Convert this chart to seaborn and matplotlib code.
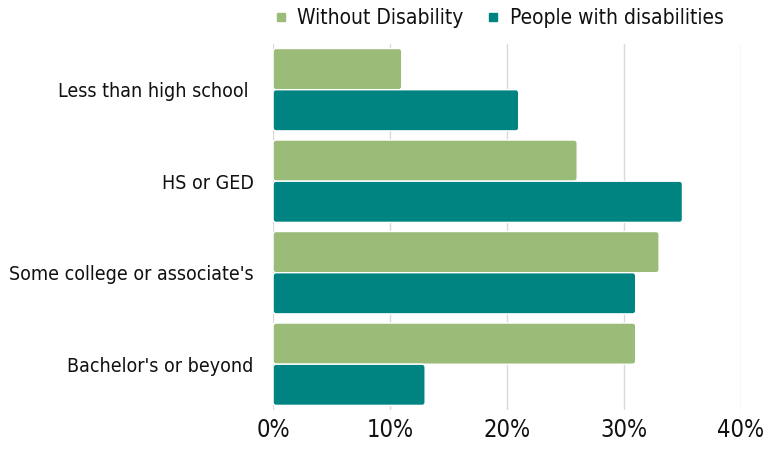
import matplotlib
matplotlib.use("Agg")
import matplotlib.pyplot as plt
from matplotlib import font_manager
from matplotlib.lines import Line2D
from matplotlib.patches import FancyBboxPatch
import seaborn as sns
import pandas as pd

categories = ["Less than high school ", "HS or GED", "Some college or associate's", "Bachelor's or beyond"]
without_disability = [11, 26, 33, 31]
with_disabilities = [21, 35, 31, 13]
series_names = ["Without Disability", "People with disabilities"]
tick_values = [0, 10, 20, 30, 40]
tick_labels = ["0%", "10%", "20%", "30%", "40%"]

colors = ["#9bbb78", "#008481"]

sns.set_theme(style="white")

names = {f.name for f in font_manager.fontManager.ttflist}
if "Liberation Sans Narrow" in names:
    plt.rcParams["font.family"] = ["Liberation Sans Narrow", "DejaVu Sans"]
else:
    plt.rcParams["font.family"] = ["DejaVu Sans"]
    plt.rcParams["font.stretch"] = "condensed"

df = pd.DataFrame({
    "category": categories * 2,
    "value": without_disability + with_disabilities,
    "series": [series_names[0]] * 4 + [series_names[1]] * 4,
})

fig = plt.figure(figsize=(7.78, 4.53), dpi=100)
ax = fig.add_axes([0.351, 0.095, 0.6014, 0.808])

sns.barplot(data=df, y="category", x="value", hue="series", orient="h",
            palette=colors, saturation=1, width=0.9, ax=ax, legend=False,
            edgecolor="white", linewidth=1.0)

ax.set_xlim(0, 40)
ax.set_xticks(tick_values)
ax.set_xticklabels(tick_labels, fontsize=17, color="#111111")
ax.tick_params(axis="y", labelsize=14, colors="#111111", length=0, pad=14)
ax.tick_params(axis="x", length=0, pad=6)
ax.set_xlabel("")
ax.set_ylabel("")
for s in ax.spines.values():
    s.set_visible(False)
ax.grid(axis="x", color="#d9d9d9", linewidth=1)
ax.set_axisbelow(True)

# soften the bar corners slightly
fig.canvas.draw()
bbox = ax.get_window_extent()
x0, x1 = ax.get_xlim()
y0, y1 = ax.get_ylim()
px_per_x = bbox.width / abs(x1 - x0)
px_per_y = bbox.height / abs(y1 - y0)
radius_px = 3.0
for p in list(ax.patches):
    x, y = p.get_x(), p.get_y()
    w, h = p.get_width(), p.get_height()
    rounded = FancyBboxPatch(
        (x, y), w, h,
        boxstyle=f"round,pad=0,rounding_size={radius_px / px_per_x}",
        mutation_aspect=px_per_x / px_per_y,
        facecolor=p.get_facecolor(), edgecolor="white", linewidth=1.0,
        zorder=p.get_zorder(),
    )
    p.remove()
    ax.add_patch(rounded)

handles = [Line2D([], [], marker="s", linestyle="none", markersize=6,
                  markerfacecolor=c, markeredgecolor=c) for c in colors]
fig.legend(handles, series_names, loc="center", bbox_to_anchor=(0.64, 0.96),
           ncol=2, frameon=False, fontsize=15, handletextpad=0.4,
           columnspacing=1.0, handlelength=0.8, labelcolor="#111111")

fig.savefig("out.png", dpi=100)
